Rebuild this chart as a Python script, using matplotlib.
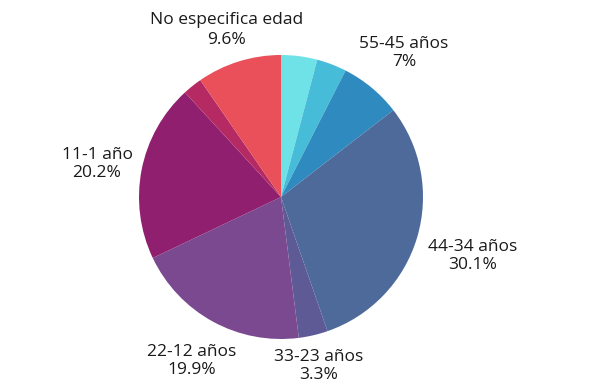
import matplotlib
matplotlib.use('Agg')
import matplotlib.pyplot as plt

# slices clockwise from 12 o'clock
labels = ['', '', '55-45 años', '44-34 años', '33-23 años', '22-12 años', '11-1 año', '', 'No especifica edad']
values = [4.1, 3.4, 7.0, 30.1, 3.3, 19.9, 20.2, 2.2, 9.6]
shown = ['', '', '7%', '30.1%', '3.3%', '19.9%', '20.2%', '', '9.6%']
colors = ['#6fe2e8', '#47bcd8', '#2f8bbf', '#4e6a9b', '#5d5a95', '#7b4990',
          '#911f6f', '#b62a63', '#e9505a']

# label centres in pixels (x, y from top)
label_pos = [None, None, (404, 53), (473, 256), (319, 366), (192, 361), (97, 164), None, (227, 30)]

W, H = 590, 391
cx, cy, r = 281, 197, 142

plt.rcParams['font.family'] = ['Open Sans', 'DejaVu Sans']
fig = plt.figure(figsize=(W / 100, H / 100), dpi=100)
ax = fig.add_axes([0, 0, 1, 1])
ax.pie(values, colors=colors, startangle=90, counterclock=False,
       radius=r, center=(cx, H - cy), wedgeprops={'linewidth': 0})
ax.set_xlim(0, W)
ax.set_ylim(0, H)
ax.set_aspect('equal')
ax.axis('off')

for lab, pct, pos in zip(labels, shown, label_pos):
    if pos is None:
        continue
    gap = 1.35 if pos[1] < 40 else 1.1
    ax.text(pos[0], H - pos[1], lab + '\n' + pct, ha='center', va='center',
            fontsize=12.5, color='#1a1a1a', linespacing=gap)

fig.savefig('out.png', dpi=100)
